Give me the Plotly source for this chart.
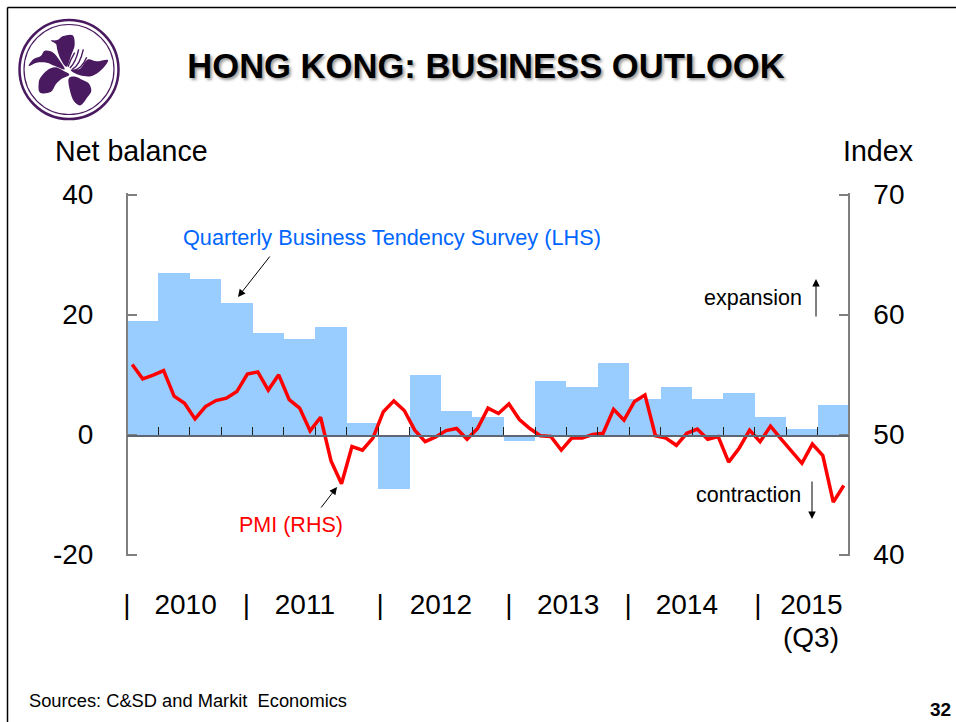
import plotly.graph_objects as go

W, H = 956, 722
FONT = "Liberation Sans"

quarters = [f"{y}Q{q}" for y in range(2010, 2016) for q in range(1, 5)][:23]
survey_lhs = [19, 27, 26, 22, 17, 16, 18, 2, -9, 10, 4, 3, -1, 9, 8, 12, 6, 8, 6, 7, 3, 1, 5]
pmi_rhs = [55.83, 54.64, 54.94, 55.33, 53.19, 52.6, 51.3, 52.33, 52.83, 53.03, 53.58, 55.03,
           55.22, 53.7, 54.97, 52.9, 52.2, 50.3, 51.44, 47.8, 45.9, 49.0, 48.7, 49.7,
           51.9, 52.8, 52.0, 50.36, 49.4, 49.8, 50.33, 50.5, 49.6, 50.5, 52.2, 51.75,
           52.55, 51.25, 50.5, 49.9, 49.83, 48.7, 49.7, 49.7, 50.0, 50.1, 52.1, 51.2,
           52.75, 53.3, 49.9, 49.7, 49.1, 50.1, 50.45, 49.6, 49.83, 47.7, 48.86, 50.36,
           49.4, 50.7, 49.64, 48.6, 47.6, 49.2, 48.25, 44.36, 45.75]
left_ticks = [-20, 0, 20, 40]
left_tick_text = ["-20", "0", "20", "40"]
right_ticks = [40, 50, 60, 70]
year_labels = ["|", "2010", "|", "2011", "|", "2012", "|", "2013", "|", "2014", "|", "2015"]
year_label_months = [0.0, 5.6, 11.4, 17.0, 24.2, 30.0, 36.5, 42.15, 47.9, 53.5, 60.3, 65.4]

L, R, T, B, Z = 127, 849, 194.5, 554.5, 434.5
PAD = 1.5  # pixels of slack so plotly keeps the inside ticks at the axis ends


def px(x):
    return x / W


def py(y):
    return 1 - y / H


def smooth(points):
    """Closed Catmull-Rom outline through points given in pixels of the 3x logo crop."""
    pts = [(px(x / 3), py(y / 3)) for x, y in points]
    n = len(pts)
    d = f"M{pts[0][0]},{pts[0][1]}"
    for i in range(n):
        p0, p1, p2, p3 = pts[i - 1], pts[i], pts[(i + 1) % n], pts[(i + 2) % n]
        c1 = (p1[0] + (p2[0] - p0[0]) / 6, p1[1] + (p2[1] - p0[1]) / 6)
        c2 = (p2[0] - (p3[0] - p1[0]) / 6, p2[1] - (p3[1] - p1[1]) / 6)
        d += f" C{c1[0]},{c1[1]} {c2[0]},{c2[1]} {p2[0]},{p2[1]}"
    return d + " Z"


PURPLE = "#4a1a60"
petals = [
    [(153, 122), (172, 120), (190, 108), (218, 106), (224, 135), (214, 165), (200, 200),
     (182, 178), (172, 150), (168, 132)],
    [(86, 198), (100, 178), (122, 168), (135, 152), (160, 158), (178, 180), (194, 208),
     (165, 198), (140, 188), (110, 188)],
    [(116, 250), (122, 232), (140, 212), (165, 202), (190, 212), (208, 224), (185, 236), (168, 252),
     (152, 276), (120, 278)],
    [(206, 236), (226, 230), (248, 240), (266, 250), (274, 272), (262, 292), (242, 316), (222, 304),
     (210, 272)],
    [(262, 179), (290, 184), (324, 180), (306, 208), (276, 228), (240, 226), (212, 210), (240, 206)],
]
stamens = [
    [(204, 200), (212, 178), (224, 158)],
    [(210, 204), (228, 185), (236, 148)],
    [(216, 209), (240, 195), (250, 148)],
    [(222, 212), (246, 205), (260, 172)],
]

shapes = [
    dict(type="line", xref="paper", yref="paper", x0=px(7.5), x1=px(7.5), y0=py(7.5), y1=py(722),
         line=dict(color="black", width=1.5)),
    dict(type="line", xref="paper", yref="paper", x0=px(7.5), x1=px(956), y0=py(7.5), y1=py(7.5),
         line=dict(color="black", width=1.5)),
    dict(type="circle", xref="paper", yref="paper", x0=px(69 - 49.5), x1=px(69 + 49.5),
         y0=py(69.5 + 49.5), y1=py(69.5 - 49.5), line=dict(color=PURPLE, width=2.5)),
    dict(type="circle", xref="paper", yref="paper", x0=px(69 - 45), x1=px(69 + 45),
         y0=py(69.5 + 45), y1=py(69.5 - 45), line=dict(color=PURPLE, width=1.2)),
]
for p in petals:
    shapes.append(dict(type="path", xref="paper", yref="paper", path=smooth(p),
                       fillcolor=PURPLE, line=dict(width=0)))
for s in stamens:
    a, b, c = [(px(x / 3), py(y / 3)) for x, y in s]
    shapes.append(dict(type="path", xref="paper", yref="paper",
                       path=f"M{a[0]},{a[1]} Q{b[0]},{b[1]} {c[0]},{c[1]}",
                       line=dict(color=PURPLE, width=1.4)))


def label(text, x, y, size, color="black", anchor="left", bold=False):
    return dict(text=f"<b>{text}</b>" if bold else text, x=px(x), y=py(y), xref="paper", yref="paper",
                xanchor=anchor, yanchor="middle", showarrow=False,
                font=dict(family=FONT, size=size, color=color))


def arrow(x0, y0, x1, y1):
    return dict(text="", x=px(x1), y=py(y1), xref="paper", yref="paper", ax=x0 - x1, ay=y0 - y1,
                showarrow=True, arrowhead=2, arrowsize=1.5, arrowwidth=1, arrowcolor="black")


annotations = [
    label("Net balance", 53, 151, 28.6),
    label("Index", 841, 151, 28.6),
    label("Quarterly Business Tendency Survey (LHS)", 181, 238, 21.7, "#0066ff"),
    label("PMI (RHS)", 237, 525, 21.5, "#ff0000"),
    label("expansion", 702, 298, 21.5),
    label("contraction", 694, 495, 21.5),
    label("(Q3)", 811, 637, 28, anchor="center"),
    label("Sources: C&amp;SD and Markit  Economics", 27, 700, 18.3),
    label("32", 940, 709, 19, anchor="center", bold=True),
    arrow(271, 255, 238, 297),
    arrow(320, 509, 337, 487),
    arrow(816, 318, 816, 279),
    arrow(812, 480, 812, 519),
]

fig = go.Figure()
fig.add_trace(go.Bar(x=[3 * i + 1.5 for i in range(len(quarters))], y=survey_lhs, width=3,
                     marker=dict(color="#99ccff", line=dict(width=0)),
                     name="Quarterly Business Tendency Survey (LHS)", xaxis="x", yaxis="y"))
fig.add_trace(go.Scatter(x=[i + 0.5 for i in range(len(pmi_rhs))], y=pmi_rhs, mode="lines",
                         line=dict(color="#ff0000", width=3.5), name="PMI (RHS)",
                         xaxis="x", yaxis="y2"))
# Invisible traces that keep the helper axes alive
fig.add_trace(go.Scatter(x=[0], y=[-20], mode="markers", marker=dict(opacity=0), xaxis="x2", yaxis="y",
                         hoverinfo="skip"))
fig.add_trace(go.Scatter(x=[0], y=[0], mode="markers", marker=dict(opacity=0), xaxis="x", yaxis="y3",
                         hoverinfo="skip"))

dom_x = [px(L), px(R)]
dom_y = [py(B + PAD), py(T - PAD)]
left_slack = PAD * 60 / (B - T)
right_slack = PAD * 30 / (B - T)
fig.update_layout(
    width=W, height=H, margin=dict(l=0, r=0, t=0, b=0, autoexpand=False), paper_bgcolor="white",
    plot_bgcolor="rgba(0,0,0,0)",
    showlegend=False, bargap=0, font=dict(family=FONT, color="black"),
    title=dict(text="<b>HONG KONG: BUSINESS OUTLOOK</b>", x=px(486), y=py(66), xref="paper", yref="paper",
               xanchor="center", yanchor="middle",
               font=dict(family=FONT, size=34.6, color="black", shadow="2px 2px 3px #999999")),
    xaxis=dict(domain=dom_x, range=[0, 69], anchor="y3", automargin=False, showgrid=False, zeroline=False,
               showline=True, linecolor="#5f6673", linewidth=2,
               tickmode="array", tickvals=list(range(0, 70, 3)), ticks="inside", ticklen=8,
               tickwidth=1, tickcolor="#222222", showticklabels=False),
    xaxis2=dict(domain=dom_x, range=[0, 69], anchor="y", automargin=False, showgrid=False, zeroline=False,
                showline=False, tickmode="array", tickvals=year_label_months, ticktext=year_labels,
                ticks="outside", ticklen=23, tickcolor="rgba(0,0,0,0)",
                tickangle=0, tickfont=dict(family=FONT, size=28, color="black")),
    yaxis=dict(domain=dom_y, range=[-20 - left_slack, 40 + left_slack], anchor="free", position=px(L),
               automargin=False,
               showgrid=False, zeroline=False, showline=True, linecolor="#7f7f7f", linewidth=2,
               tickmode="array", tickvals=left_ticks, ticktext=left_tick_text, ticks="inside", ticklen=9,
               tickwidth=1.5, tickcolor="#7f7f7f", ticklabelstandoff=27,
               tickfont=dict(family=FONT, size=28, color="black")),
    yaxis2=dict(domain=dom_y, range=[40 - right_slack, 70 + right_slack], overlaying="y", side="right",
                anchor="free", position=px(R), automargin=False, showgrid=False, zeroline=False,
                showline=True, linecolor="#7f7f7f",
                linewidth=1.5, tickmode="array", tickvals=right_ticks, ticks="inside", ticklen=9,
                tickwidth=1.5, tickcolor="#7f7f7f", ticklabelstandoff=18,
                tickfont=dict(family=FONT, size=28, color="black")),
    yaxis3=dict(domain=[py(Z), py(T)], range=[0, 1], anchor="x", automargin=False, visible=False),
    shapes=shapes, annotations=annotations,
)

fig.write_html("out.html", config={"displayModeBar": False},
               post_script="document.body.style.margin='0';document.body.style.overflow='hidden';")
